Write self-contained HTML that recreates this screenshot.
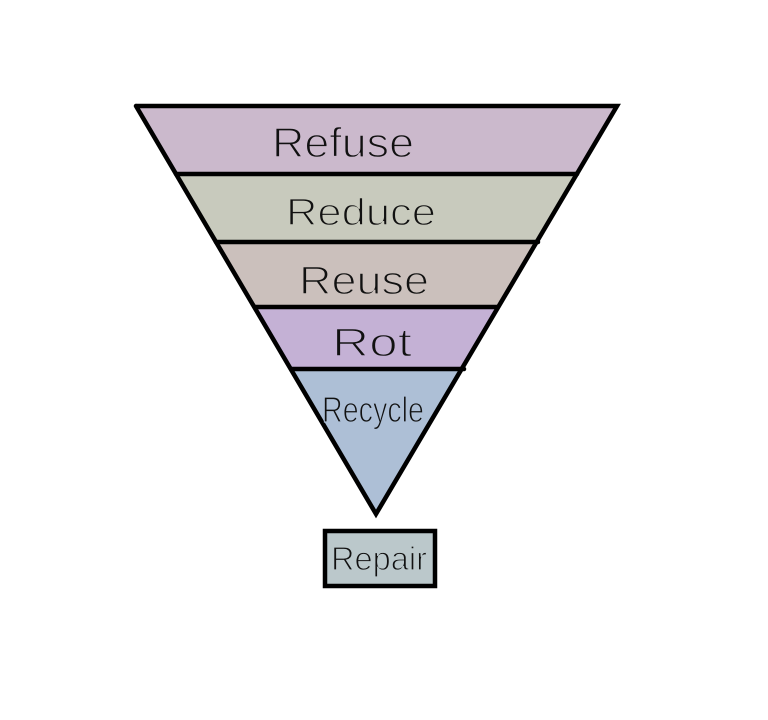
<!DOCTYPE html>
<html><head><meta charset="utf-8"><style>
html,body{margin:0;padding:0;background:#fff;}
svg{display:block;}
text{font-family:"Liberation Sans","DejaVu Sans",sans-serif;fill:#111;}
</style></head><body>
<svg width="768" height="720" viewBox="0 0 768 720" xmlns="http://www.w3.org/2000/svg">
<rect width="768" height="720" fill="#fff"/>
<!-- bands -->
<polygon points="136,106 617,106 576,174 176,174" fill="#cbb9cc"/>
<polygon points="176,174 576,174 536,242 216,242" fill="#c8cabd"/>
<polygon points="216,242 536,242 498,307 255,307" fill="#cbc0bc"/>
<polygon points="255,307 498,307 462,369 291,369" fill="#c4b1d5"/>
<polygon points="291,369 462,369 376,515" fill="#adbfd6"/>
<!-- lines -->
<g stroke="#000" stroke-width="4.5" stroke-linecap="round" stroke-linejoin="miter" fill="none">
<polyline points="136,106 617,106 376,514 136,106"/>
<line x1="176" y1="174" x2="577" y2="174"/>
<line x1="216" y1="242" x2="538" y2="242"/>
<line x1="255" y1="307" x2="498" y2="307"/>
<line x1="291" y1="369" x2="464" y2="369"/>
</g>
<!-- repair box -->
<rect x="325" y="531" width="110" height="55" fill="#bbc8cb" stroke="#000" stroke-width="4.5"/>
<!-- labels (thinned by band-coloured outline painted on top) -->
<text x="272" y="157" font-size="42" textLength="142" lengthAdjust="spacingAndGlyphs" style="stroke:#cbb9cc;stroke-width:1.4">Refuse</text>
<text x="286" y="225" font-size="38" textLength="150" lengthAdjust="spacingAndGlyphs" style="stroke:#c8cabd;stroke-width:1.4">Reduce</text>
<text x="299" y="294" font-size="40" textLength="130" lengthAdjust="spacingAndGlyphs" style="stroke:#cbc0bc;stroke-width:1.4">Reuse</text>
<text x="332" y="356" font-size="40" textLength="80" lengthAdjust="spacingAndGlyphs" style="stroke:#c4b1d5;stroke-width:1.4">Rot</text>
<text x="322" y="422" font-size="36" textLength="102" lengthAdjust="spacingAndGlyphs" style="stroke:#adbfd6;stroke-width:1.2">Recycle</text>
<text x="331" y="570" font-size="33" textLength="96" lengthAdjust="spacingAndGlyphs" style="stroke:#bbc8cb;stroke-width:1.2">Repair</text>
</svg>
</body></html>
